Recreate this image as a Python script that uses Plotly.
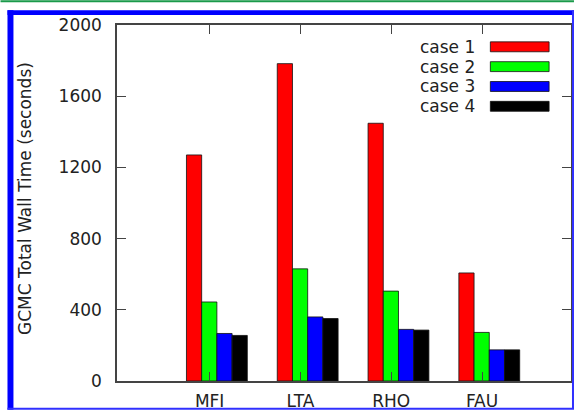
import plotly.graph_objects as go

# ---- data ----
materials = ["MFI", "LTA", "RHO", "FAU"]
series_names = ["case 1", "case 2", "case 3", "case 4"]
case1 = [1270, 1783, 1448, 607]
case2 = [444, 630, 505, 273]
case3 = [267, 360, 290, 175]
case4 = [256, 351, 286, 175]
y_ticks = [0, 400, 800, 1200, 1600, 2000]

series_values = [case1, case2, case3, case4]
colors = ["#ff0000", "#00ff00", "#0000ff", "#000000"]

positions = [1, 2, 3, 4]
FONT = "DejaVu Sans"

fig = go.Figure()
for name, vals, col in zip(series_names, series_values, colors):
    fig.add_trace(go.Bar(
        x=positions, y=vals, name=name,
        marker=dict(color=col, line=dict(color="#111111", width=0.8)),
        showlegend=False,
    ))

W, H = 576, 414
L, R, T, B = 117, 3, 25, 30
pw, ph = W - L - R, H - T - B


def px_x(px):
    return (px - L) / pw


def px_y(py):
    return (H - B - py) / ph


shapes = []
annotations = []

# custom legend (text left of a wide swatch)
for i, (name, col) in enumerate(zip(series_names, colors)):
    cy = 47 + 20 * i
    annotations.append(dict(
        x=px_x(479), y=px_y(cy), xref="paper", yref="paper",
        text=name, showarrow=False, xanchor="right", yanchor="middle",
        font=dict(family=FONT, size=17, color="#222222"),
    ))
    shapes.append(dict(
        type="rect", xref="paper", yref="paper",
        x0=px_x(492), x1=px_x(551), y0=px_y(cy - 5), y1=px_y(cy + 5),
        fillcolor=col, line=dict(color="#111111", width=0.8),
    ))

# y axis title
annotations.append(dict(
    x=px_x(24), y=px_y(200), xref="paper", yref="paper",
    text="GCMC Total Wall Time (seconds)", showarrow=False, textangle=-90,
    xanchor="center", yanchor="middle",
    font=dict(family=FONT, size=17, color="#222222"),
))

# decorative frame of the figure
shapes += [
    dict(type="line", xref="paper", yref="paper", x0=px_x(0), x1=px_x(576),
         y0=px_y(1), y1=px_y(1), line=dict(color="#1a9a4a", width=2)),
    dict(type="rect", xref="paper", yref="paper", x0=px_x(7), x1=px_x(576),
         y0=px_y(15), y1=px_y(10), fillcolor="#0000ff", line=dict(width=0)),
    dict(type="rect", xref="paper", yref="paper", x0=px_x(7), x1=px_x(13),
         y0=px_y(413), y1=px_y(10), fillcolor="#0000ff", line=dict(width=0)),
    dict(type="line", xref="paper", yref="paper", x0=px_x(7), x1=px_x(576),
         y0=px_y(412), y1=px_y(412), line=dict(color="#3030ff", width=2)),
    dict(type="line", xref="paper", yref="paper", x0=px_x(575), x1=px_x(575),
         y0=px_y(412), y1=px_y(10), line=dict(color="#3030ff", width=2)),
]

fig.update_layout(
    width=W, height=H, autosize=False,
    margin=dict(l=L, r=R, t=T, b=B, pad=0),
    barmode="group", bargap=0.33, bargroupgap=0,
    paper_bgcolor="white", plot_bgcolor="white",
    font=dict(family=FONT, size=17, color="#222222"),
    shapes=shapes, annotations=annotations,
    showlegend=False,
)
fig.update_xaxes(
    range=[-0.1, 4.9],
    tickvals=[p - 0.08 for p in positions], ticktext=materials,
    ticks="inside", ticklen=9, tickcolor="#444444", tickwidth=1.2,
    showline=True, linecolor="#444444", linewidth=1.5, mirror="ticks",
    showgrid=False, zeroline=False, ticklabelstandoff=4,
    tickfont=dict(family=FONT, size=17, color="#222222"),
)
fig.update_yaxes(
    range=[0, 2000], tickvals=y_ticks,
    ticks="inside", ticklen=9, tickcolor="#444444", tickwidth=1.2,
    showline=True, linecolor="#444444", linewidth=1.5, mirror="ticks",
    showgrid=False, zeroline=False, ticklabelstandoff=10,
    tickfont=dict(family=FONT, size=17, color="#222222"),
)

post = (
    "var h=document.documentElement, b=document.body;"
    "h.style.margin='0'; h.style.padding='0'; h.style.overflow='hidden';"
    "b.style.margin='0'; b.style.padding='0'; b.style.overflow='hidden';"
)
fig.write_html("out.html", config={"displayModeBar": False, "responsive": False},
               post_script=post)
